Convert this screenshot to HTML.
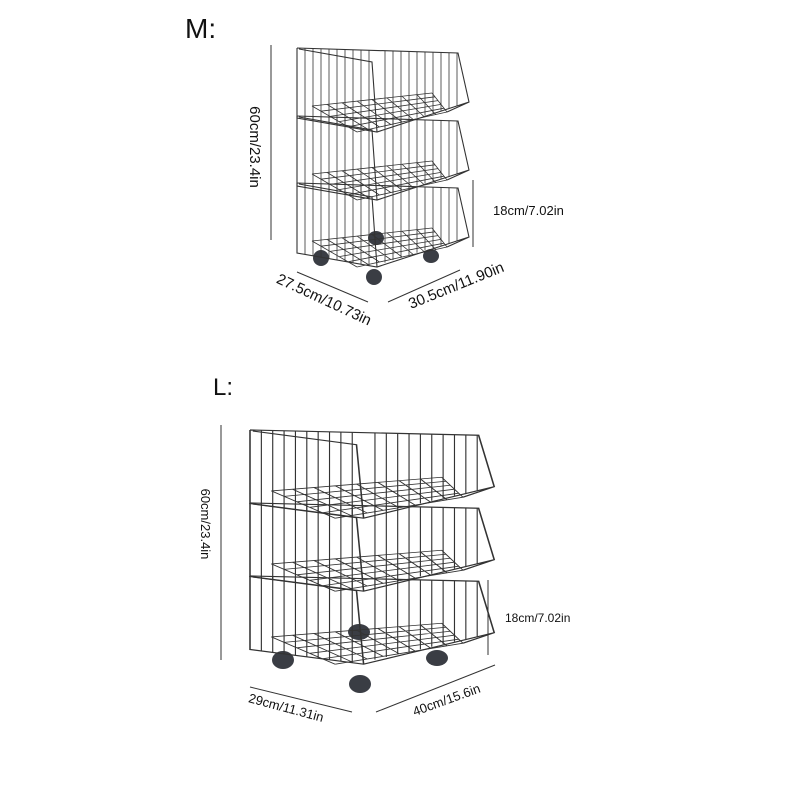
<!DOCTYPE html>
<html><head><meta charset="utf-8"><style>
html,body{margin:0;padding:0;background:#fff;}
svg{display:block;font-family:"Liberation Sans",sans-serif;}
</style></head><body>
<svg width="800" height="800" viewBox="0 0 800 800" xmlns="http://www.w3.org/2000/svg">
<defs>
<g id="tier" fill="none" stroke="#333" stroke-width="1.1" vector-effect="non-scaling-stroke">
<path d="M0,0 L161,5 L172,54 L150,64 M0,0 L0,70 L80,84 L172,54 M2,1 L75,14 L80,84"/>
<path stroke-width="0.8" d="M8,.25V71.4M16,.5V72.8M24,.74V74.2M32,1V75.6M40,1.24V77M48,1.5V78.4M56,1.74V79.8M64,2V81.2M72,2.2V82.6M88,2.7V79.6M96,3V77.1M104,3.2V74.7M112,3.5V72.3M120,3.7V69.8M128,4V67.4M136,4.2V65M144,4.5V62.5M152,4.7V60.1M160,5V57.7"/>
<path stroke-width="0.8" d="M15,58L135,45M24,63.2L138,48.8M33,68.4L141,52.6M42,73.6L144,56.4M51,78.8L147,60.2M60,84L150,64M15,58L60,84M30,56.4L71.25,81.5M45,54.75L82.5,79M60,53.1L93.75,76.5M75,51.5L105,74M90,49.9L116.25,71.5M105,48.25L127.5,69M120,46.6L138.75,66.5M135,45L150,64"/>
</g>
</defs>
<text x="185" y="38" font-size="28" fill="#111">M:</text>
<text x="213" y="395" font-size="24" fill="#111">L:</text>

<!-- M -->
<g fill="#3a3d44">
<ellipse cx="321" cy="258" rx="8" ry="8"/><ellipse cx="376" cy="238" rx="8" ry="7"/>
<ellipse cx="374" cy="277" rx="8" ry="8"/><ellipse cx="431" cy="256" rx="8" ry="7"/>
</g>
<use href="#tier" transform="translate(297,48)"/>
<use href="#tier" transform="translate(297,116)"/>
<use href="#tier" transform="translate(297,183)"/>
<g stroke="#333" stroke-width="1">
<line x1="271" y1="45" x2="271" y2="240"/>
<line x1="473" y1="180" x2="473" y2="247"/>
<line x1="297" y1="272" x2="368" y2="302"/>
<line x1="388" y1="302" x2="460" y2="270"/>
</g>
<text transform="translate(250,147) rotate(90)" text-anchor="middle" font-size="15" fill="#111">60cm/23.4in</text>
<text x="493" y="215" font-size="13" fill="#111">18cm/7.02in</text>
<text transform="translate(322,304) rotate(25)" text-anchor="middle" font-size="15" fill="#111">27.5cm/10.73in</text>
<text transform="translate(458,290) rotate(-22)" text-anchor="middle" font-size="15" fill="#111">30.5cm/11.90in</text>

<!-- L -->
<g fill="#3a3d44">
<ellipse cx="283" cy="660" rx="11" ry="9"/><ellipse cx="359" cy="632" rx="11" ry="8"/>
<ellipse cx="360" cy="684" rx="11" ry="9"/><ellipse cx="437" cy="658" rx="11" ry="8"/>
</g>
<use href="#tier" transform="translate(250,430) scale(1.42,1.05)"/>
<use href="#tier" transform="translate(250,503) scale(1.42,1.05)"/>
<use href="#tier" transform="translate(250,576) scale(1.42,1.05)"/>
<g stroke="#333" stroke-width="1">
<line x1="221" y1="425" x2="221" y2="660"/>
<line x1="488" y1="580" x2="488" y2="655"/>
<line x1="250" y1="687" x2="352" y2="712"/>
<line x1="376" y1="712" x2="495" y2="665"/>
</g>
<text transform="translate(201,524) rotate(90)" text-anchor="middle" font-size="13" fill="#111">60cm/23.4in</text>
<text x="505" y="622" font-size="12" fill="#111">18cm/7.02in</text>
<text transform="translate(285,712) rotate(15)" text-anchor="middle" font-size="13" fill="#111">29cm/11.31in</text>
<text transform="translate(448,704) rotate(-20)" text-anchor="middle" font-size="13" fill="#111">40cm/15.6in</text>
</svg>
</body></html>
